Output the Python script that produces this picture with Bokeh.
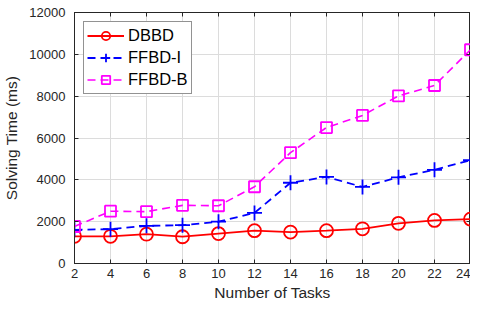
from bokeh.plotting import figure
from bokeh.models import LinearAxis, FixedTicker, Legend, LegendItem, Range1d
from bokeh.embed import file_html
from bokeh.resources import INLINE

tasks = [2, 4, 6, 8, 10, 12, 14, 16, 18, 20, 22, 24]
dbbd = [1300, 1300, 1400, 1280, 1430, 1570, 1500, 1570, 1660, 1920, 2060, 2120]
ffbd_i = [1610, 1640, 1800, 1830, 2000, 2420, 3860, 4140, 3660, 4120, 4480, 4940]
ffbd_b = [1770, 2500, 2480, 2780, 2760, 3670, 5300, 6500, 7080, 8010, 8510, 10220]
x_ticks = [2, 4, 6, 8, 10, 12, 14, 16, 18, 20, 22, 24]
y_ticks = [0, 2000, 4000, 6000, 8000, 10000, 12000]

FONT = "Liberation Sans"
AX = "#262626"

p = figure(width=470, height=303, output_backend="svg", toolbar_location=None,
           x_range=Range1d(2, 24), y_range=Range1d(0, 12000),
           min_border_left=0, min_border_right=0, min_border_top=12, min_border_bottom=0)
p.background_fill_color = "white"
p.border_fill_color = "white"
p.outline_line_color = AX
p.outline_line_width = 1

for ax in p.xaxis:
    ax.ticker = FixedTicker(ticks=x_ticks)
    ax.axis_label = "Number of Tasks"
for ax in p.yaxis:
    ax.ticker = FixedTicker(ticks=y_ticks)
    ax.axis_label = "Solving Time (ms)"

for ax in list(p.xaxis) + list(p.yaxis):
    ax.major_tick_in = 4
    ax.major_tick_out = 0
    ax.minor_tick_line_color = None
    ax.axis_line_color = AX
    ax.major_tick_line_color = AX
    ax.major_label_text_font = FONT
    ax.major_label_text_font_size = "13px"
    ax.major_label_text_color = AX
    ax.axis_label_text_font = FONT
    ax.axis_label_text_font_size = "15.5px"
    ax.axis_label_text_font_style = "normal"
    ax.axis_label_text_color = AX
p.yaxis.major_label_standoff = 9
p.yaxis.axis_label_standoff = 6
p.xaxis.major_label_standoff = 5
p.xaxis.axis_label_standoff = 3

top = LinearAxis(ticker=FixedTicker(ticks=x_ticks), major_label_text_color=None,
                 major_label_standoff=0,
                 major_tick_in=4, major_tick_out=0, minor_tick_line_color=None,
                 axis_line_color=AX, major_tick_line_color=AX)
right = LinearAxis(ticker=FixedTicker(ticks=y_ticks), major_label_text_color=None,
                   major_label_standoff=0,
                   major_tick_in=4, major_tick_out=0, minor_tick_line_color=None,
                   axis_line_color=AX, major_tick_line_color=AX)
p.add_layout(top, "above")
p.add_layout(right, "right")

p.grid.grid_line_color = "#dcdcdc"
p.grid.grid_line_width = 1
p.xgrid.ticker = FixedTicker(ticks=x_ticks)
p.ygrid.ticker = FixedTicker(ticks=y_ticks)

l1 = p.line(tasks, dbbd, line_color="red", line_width=1.8)
m1 = p.scatter(tasks, dbbd, marker="circle", size=13, fill_color=None, line_color="red", line_width=1.8)
l2 = p.line(tasks, ffbd_i, line_color="blue", line_width=1.8, line_dash="8 5")
m2 = p.scatter(tasks, ffbd_i, marker="cross", size=15, line_color="blue", line_width=1.8)
l3 = p.line(tasks, ffbd_b, line_color="magenta", line_width=1.6, line_dash="8 5")
m3 = p.scatter(tasks, ffbd_b, marker="square", size=11, fill_color=None, line_color="magenta", line_width=1.8)

legend = Legend(items=[
    LegendItem(label="DBBD", renderers=[l1, m1]),
    LegendItem(label="FFBD-I", renderers=[l2, m2]),
    LegendItem(label="FFBD-B", renderers=[l3, m3]),
], location="top_left")
legend.label_text_font = FONT
legend.label_text_font_size = "16.5px"
legend.label_text_color = "black"
legend.border_line_color = AX
legend.border_line_width = 1
legend.background_fill_alpha = 1
legend.glyph_width = 37
legend.glyph_height = 21
legend.spacing = 1
legend.padding = 3
legend.margin = 9
legend.label_standoff = 4
legend.label_height = 21
p.add_layout(legend, "center")

open("out.html", "w").write(file_html(p, INLINE))
